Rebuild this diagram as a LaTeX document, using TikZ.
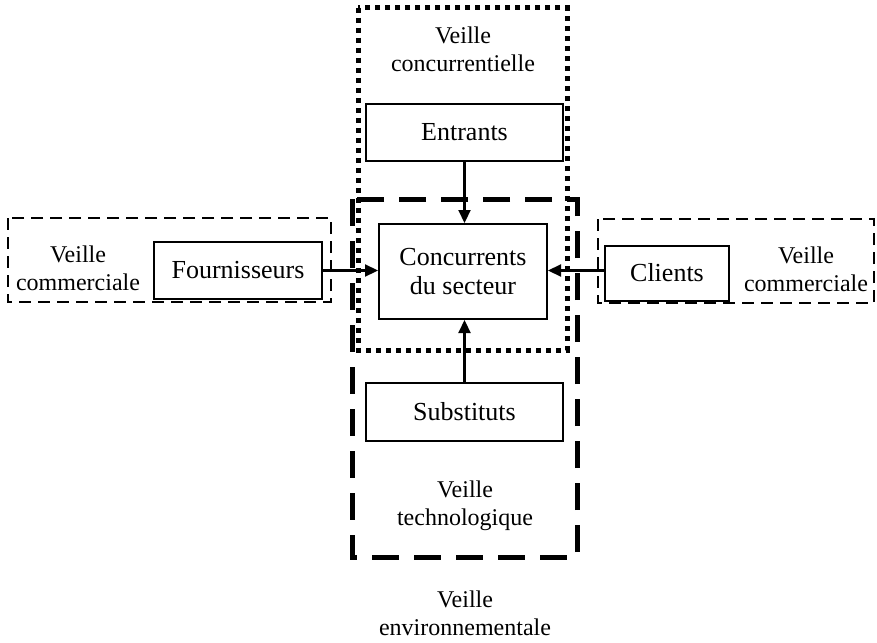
\documentclass[tikz,border=0pt]{standalone}
\usepackage{fontspec}
\setmainfont{Liberation Serif}
\usetikzlibrary{arrows.meta}
\begin{document}
\begin{tikzpicture}[x=1pt,y=-1pt,
  boxlbl/.style={draw,line width=2pt,inner sep=0pt,font=\fontsize{26}{29}\selectfont,align=center},
  veille/.style={font=\fontsize{24}{28}\selectfont,align=center,inner sep=0pt},
  thindash/.style={line width=2pt,dash pattern=on 12pt off 7pt},
  thickdash/.style={line width=5pt,dash pattern=on 27pt off 15pt},
  dotbox/.style={line width=5pt,dash pattern=on 5pt off 5pt},
  arr/.style={line width=2.2pt,-{Triangle[length=13pt,width=12pt]}}]
\useasboundingbox (0,0) rectangle (877,642);
% frames
\draw[thindash] (8,218) rectangle (331,302);
\draw[thindash] (598,219) rectangle (874,303);
\draw[thickdash] (352,199) rectangle (577,557);
\draw[dotbox] (358,8) rectangle (567,350);
% boxes
\node[boxlbl,minimum width=197pt,minimum height=57pt] (ent) at (464.5,132.5) {Entrants};
\node[boxlbl,minimum width=168pt,minimum height=95pt] (conc) at (463,271.5) {Concurrents\\du secteur};
\node[boxlbl,minimum width=197pt,minimum height=58pt] (sub) at (464.5,412) {Substituts};
\node[boxlbl,minimum width=168pt,minimum height=57pt] (four) at (238,270.5) {Fournisseurs};
\node[boxlbl,minimum width=124pt,minimum height=55pt] (cli) at (667,273) {Clients};
% labels
\node[veille] (vc) at (463,49) {Veille\\concurrentielle};
\node[veille] (vcl) at (78,268) {Veille\\commerciale};
\node[veille] (vcr) at (806,269) {Veille\\commerciale};
\node[veille] (vt) at (465,506) {Veille\\technologique};
\node[veille] (ve) at (465,613) {Veille\\environnementale};
% arrows
\draw[arr] (ent.south) -- (ent.south |- conc.north);
\draw[arr] (sub.north) -- (sub.north |- conc.south);
\draw[arr] (four.east) -- (four.east -| conc.west);
\draw[arr] (cli.west |- four.east) -- (conc.east |- four.east);
\end{tikzpicture}
\end{document}
